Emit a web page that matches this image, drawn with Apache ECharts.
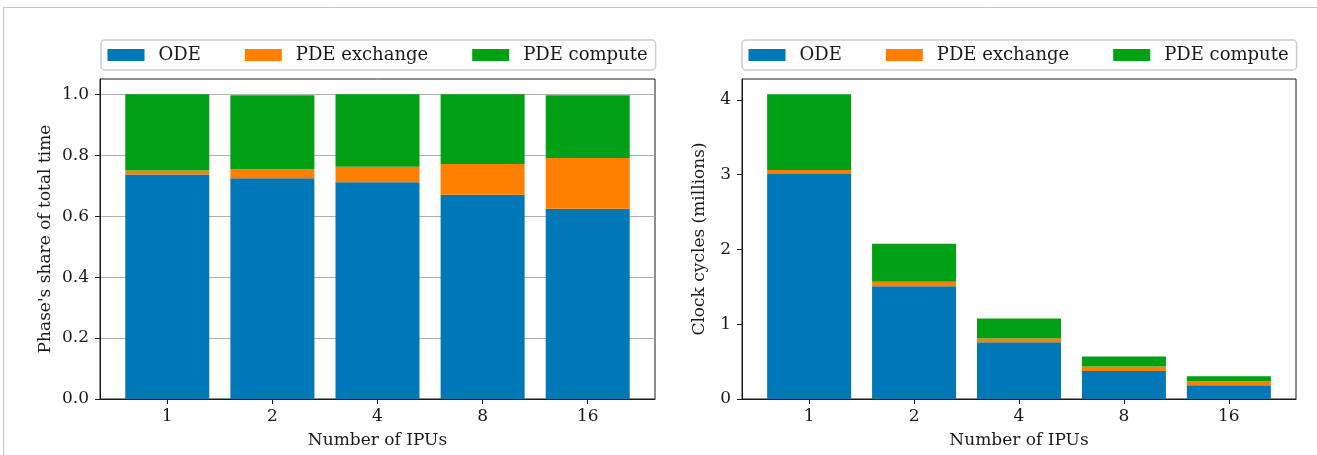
<!DOCTYPE html>
<html><head><meta charset="utf-8">
<script src="https://cdn.jsdelivr.net/npm/echarts@6/dist/echarts.min.js"></script>
<style>html,body{margin:0;padding:0;background:#fff;} #c{width:1317px;height:455px;}</style>
</head><body><div id="c"></div>
<script>
const categories = ['1', '2', '4', '8', '16'];
const seriesNames = ['ODE', 'PDE exchange', 'PDE compute'];
const shareODE = [0.737, 0.724, 0.711, 0.670, 0.624];
const shareExchange = [0.013, 0.030, 0.051, 0.101, 0.167];
const shareCompute = [0.250, 0.243, 0.238, 0.229, 0.206];
const cyclesODE = [3.010, 1.507, 0.760, 0.373, 0.183];
const cyclesExchange = [0.053, 0.062, 0.049, 0.063, 0.053];
const cyclesCompute = [1.013, 0.507, 0.267, 0.133, 0.067];
const shareTicks = [0, 0.2, 0.4, 0.6, 0.8, 1.0];
const cycleTicks = [0, 1, 2, 3, 4];
const xTicks = [0, 1, 2, 3, 4];
const colors = ['#0077b6', '#ff8000', '#00a014'];

const FONT = 'DejaVu Serif';
const INK = '#1a1a1a';

function xAxisCfg(gridIndex) {
  return {
    type: 'value', gridIndex, min: -0.64, max: 4.64, z: 10,
    name: 'Number of IPUs', nameLocation: 'middle', nameGap: 33,
    nameTextStyle: { fontFamily: FONT, fontSize: 17, color: INK },
    axisLine: { show: true, onZero: false, lineStyle: { color: INK, width: 1 } },
    axisTick: { show: true, length: 5, customValues: xTicks, lineStyle: { color: INK, width: 1 } },
    axisLabel: { customValues: xTicks, margin: 9, fontFamily: FONT, fontSize: 17, color: INK,
      formatter: v => categories[Math.round(v)] },
    splitLine: { show: false }
  };
}
function yAxisCfg(gridIndex, max, interval, ticks, name, nameGap, fmt, grid) {
  return {
    type: 'value', gridIndex, min: 0, max, interval,
    name, nameLocation: 'middle', nameGap,
    nameTextStyle: { fontFamily: FONT, fontSize: 17, color: INK },
    axisLine: { show: true, onZero: false, lineStyle: { color: INK, width: 1 } },
    axisTick: { show: true, length: 5, customValues: ticks, lineStyle: { color: INK, width: 1 } },
    axisLabel: { customValues: ticks, margin: 11, fontFamily: FONT, fontSize: 17, color: INK, formatter: fmt },
    splitLine: grid ? { show: true, lineStyle: { width: 1.2,
      color: ['transparent', '#b0b0b0', '#b0b0b0', '#b0b0b0', '#b0b0b0', '#b0b0b0', 'transparent'] } } : { show: false }
  };
}
function legendCfg(left) {
  return {
    left, top: 40, orient: 'horizontal', data: seriesNames, icon: 'rect',
    itemWidth: 37, itemHeight: 12, itemGap: 44,
    padding: [6, 8, 6, 6.5], borderColor: '#cccccc', borderWidth: 1.5, borderRadius: 4,
    backgroundColor: '#fff',
    textStyle: { fontFamily: FONT, fontSize: 18, color: INK, padding: [0, 0, 0, 9] }
  };
}
function barSeries(name, arr, idx, stack, color) {
  return {
    type: 'bar', name, stack, xAxisIndex: idx, yAxisIndex: idx, barWidth: 84,
    itemStyle: { color },
    encode: { x: 1, y: 0 },
    data: arr.map((v, i) => [v, xTicks[i]])
  };
}

const chart = echarts.init(document.getElementById('c'), null, { renderer: 'canvas' });
chart.setOption({
  animation: false,
  backgroundColor: '#fff',
  graphic: [
    { type: 'line', shape: { x1: 3, y1: 7.5, x2: 1317, y2: 7.5 }, style: { stroke: '#c4c4c4', lineWidth: 1 } },
    { type: 'line', shape: { x1: 3.5, y1: 7, x2: 3.5, y2: 455 }, style: { stroke: '#c4c4c4', lineWidth: 1 } }
  ],
  legend: [legendCfg(101), legendCfg(742)],
  grid: [
    { left: 100, top: 79, width: 555, height: 320, show: true, borderColor: INK, borderWidth: 1, backgroundColor: 'transparent' },
    { left: 742, top: 79, width: 554, height: 320, show: true, borderColor: INK, borderWidth: 1, backgroundColor: 'transparent' }
  ],
  xAxis: [xAxisCfg(0), xAxisCfg(1)],
  yAxis: [
    yAxisCfg(0, 1.05, 0.2, shareTicks, "Phase's share of total time", 46, v => v.toFixed(1), true),
    yAxisCfg(1, 4.28, 1, cycleTicks, 'Clock cycles (millions)', 34, v => String(Math.round(v)), false)
  ],
  series: [
    barSeries(seriesNames[0], shareODE, 0, 'share', colors[0]),
    barSeries(seriesNames[1], shareExchange, 0, 'share', colors[1]),
    barSeries(seriesNames[2], shareCompute, 0, 'share', colors[2]),
    barSeries(seriesNames[0], cyclesODE, 1, 'cycles', colors[0]),
    barSeries(seriesNames[1], cyclesExchange, 1, 'cycles', colors[1]),
    barSeries(seriesNames[2], cyclesCompute, 1, 'cycles', colors[2])
  ]
});
</script></body></html>
